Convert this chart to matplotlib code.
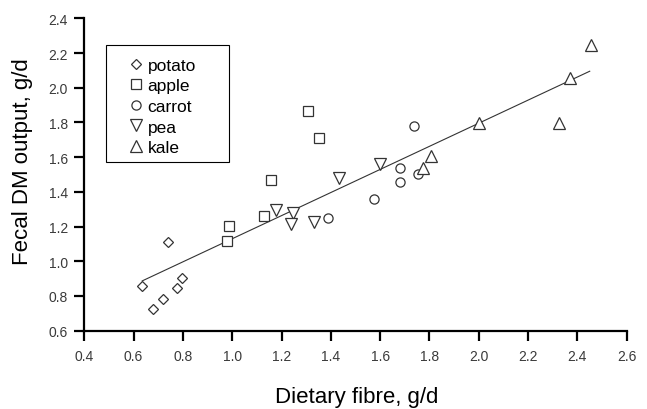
import numpy as np
import matplotlib
matplotlib.use('Agg')
from matplotlib import pyplot as plt
from matplotlib.patches import Rectangle

plt.rcParams['font.family'] = ['Liberation Sans', 'DejaVu Sans']

# Data (dietary fibre g/d, fecal DM output g/d)
potato_x = [0.633, 0.738, 0.680, 0.720, 0.777, 0.795]
potato_y = [0.860, 1.110, 0.725, 0.783, 0.845, 0.902]
apple_x = [0.980, 0.988, 1.130, 1.156, 1.306, 1.353]
apple_y = [1.115, 1.202, 1.259, 1.469, 1.864, 1.709]
carrot_x = [1.390, 1.575, 1.681, 1.682, 1.739, 1.754]
carrot_y = [1.250, 1.359, 1.455, 1.536, 1.778, 1.505]
pea_x = [1.178, 1.248, 1.239, 1.331, 1.435, 1.600]
pea_y = [1.297, 1.278, 1.215, 1.225, 1.478, 1.561]
kale_x = [1.773, 1.805, 2.002, 2.326, 2.370, 2.454]
kale_y = [1.538, 1.609, 1.797, 1.797, 2.054, 2.246]

# Regression line end points
fit_x = [0.635, 2.45]
fit_y = [0.887, 2.095]

x_ticks = [0.4, 0.6, 0.8, 1.0, 1.2, 1.4, 1.6, 1.8, 2.0, 2.2, 2.4, 2.6]
y_ticks = [0.6, 0.8, 1.0, 1.2, 1.4, 1.6, 1.8, 2.0, 2.2, 2.4]

fig = plt.figure(figsize=(6.47, 4.10), dpi=100)
ax = fig.add_axes([84.3 / 647, 1 - 331.7 / 410, 542.4 / 647, 312.4 / 410])

ec = '#333333'
ax.plot(fit_x, fit_y, color='#333333', lw=0.8, zorder=1)
style = dict(ls='none', mfc='white', mec=ec, mew=0.9, zorder=2)
ax.plot(potato_x, potato_y, marker='D', ms=5.2, label='potato', **style)
ax.plot(apple_x, apple_y, marker='s', ms=7.4, label='apple', **style)
ax.plot(carrot_x, carrot_y, marker='o', ms=6.6, label='carrot', **style)
ax.plot(pea_x, pea_y, marker='v', ms=8, label='pea', **style)
ax.plot(kale_x, kale_y, marker='^', ms=8, label='kale', **style)

ax.set_xlim(0.4, 2.6)
ax.set_ylim(0.6, 2.4)
ax.set_xticks(x_ticks)
ax.set_yticks(y_ticks)
ax.set_xticklabels(['%.1f' % v for v in x_ticks])
ax.set_yticklabels(['%.1f' % v for v in y_ticks])
ax.spines['top'].set_visible(False)
ax.spines['right'].set_visible(False)
for s in ['left', 'bottom']:
    ax.spines[s].set_linewidth(1.6)
    ax.spines[s].set_color('black')
ax.tick_params(direction='out', length=7.5, width=1.6, color='black',
               labelsize=10, labelcolor='#3a3a3a', pad=4.3)
ax.tick_params(axis='x', pad=5.8)

ax.set_xlabel('Dietary fibre, g/d', fontsize=16)
ax.set_ylabel('Fecal DM output, g/d', fontsize=16)
ax.xaxis.set_label_coords(0.502, -0.178)
ax.yaxis.set_label_coords(-0.095, 0.546)

# legend box
ax.add_patch(Rectangle((0.040, 0.539), 0.2273, 0.3755, transform=ax.transAxes,
                       fill=False, ec='black', lw=0.8, zorder=3))
leg = ax.legend(loc='upper left', bbox_to_anchor=(0.0833, 0.8745),
                prop=dict(size=12.5),
                frameon=False, borderpad=0, labelspacing=0.315,
                handlelength=0.8, handletextpad=0.25, borderaxespad=0)

fig.savefig('out.png', dpi=100)
